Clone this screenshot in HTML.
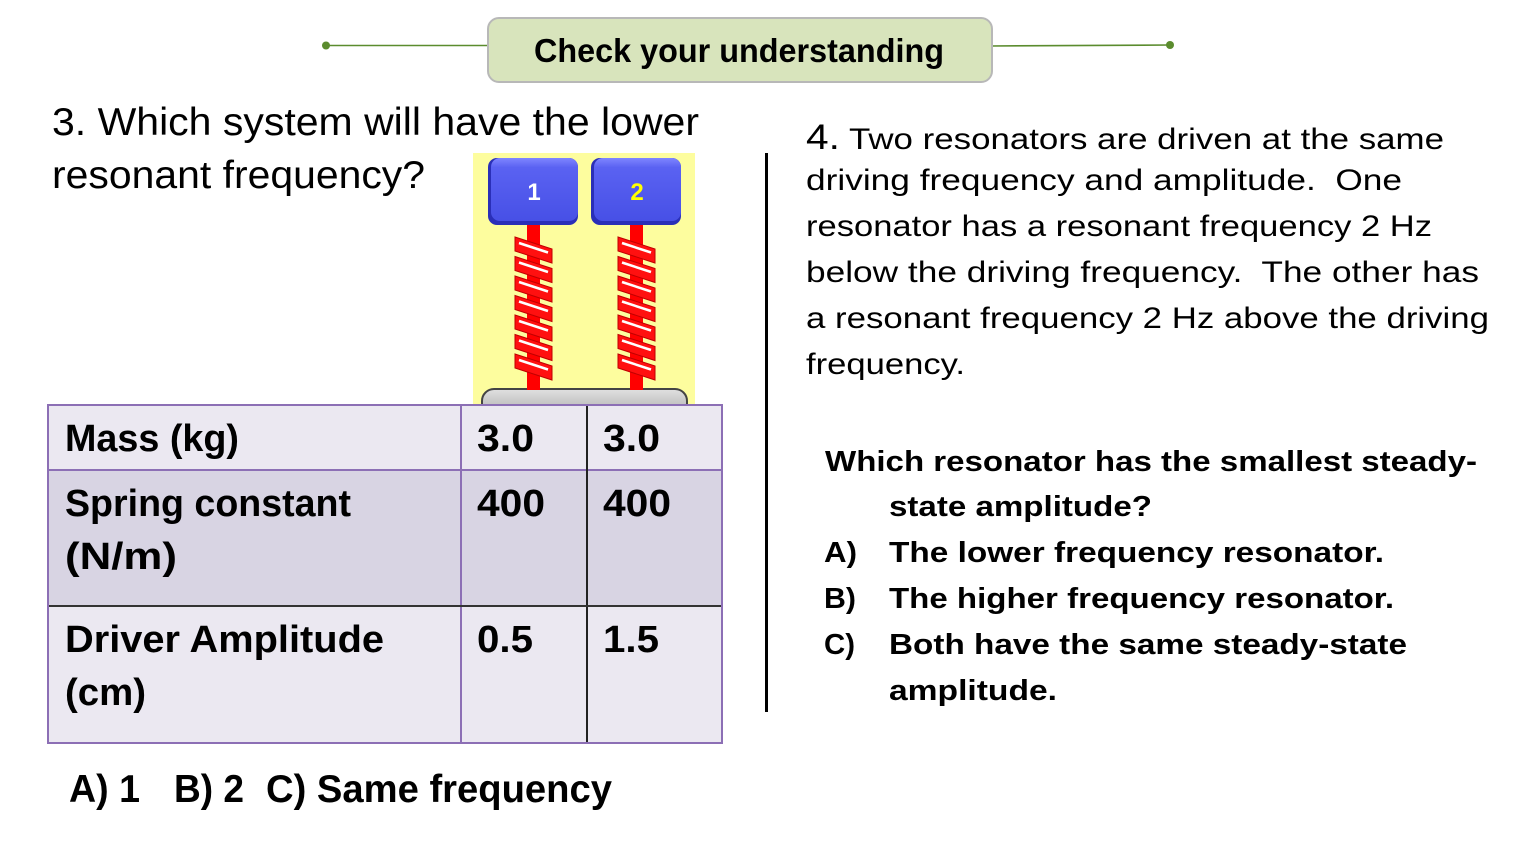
<!DOCTYPE html>
<html><head><meta charset="utf-8">
<style>
html,body{margin:0;padding:0;background:#fff;}
body{width:1533px;height:864px;position:relative;overflow:hidden;font-family:"Liberation Sans",Arial,sans-serif;color:#000;}
.f{position:absolute;line-height:1;white-space:pre;}
.f>span{display:inline-block;transform-origin:0 0;white-space:pre;}
.b{font-weight:bold;}
.abs{position:absolute;}
</style></head><body>

<!-- header connectors -->
<svg class="abs" style="left:0;top:0" width="1533" height="100">
  <line x1="326" y1="45.5" x2="490" y2="45.5" stroke="#5b8c2e" stroke-width="1.6"/>
  <line x1="990" y1="46" x2="1170" y2="45" stroke="#5b8c2e" stroke-width="1.6"/>
  <circle cx="326" cy="45.5" r="4" fill="#5b8c2e"/>
  <circle cx="1170" cy="45" r="4" fill="#5b8c2e"/>
</svg>
<div class="abs" style="left:487px;top:17px;width:502px;height:62px;background:#d8e4bc;border:2px solid #b8b8b8;border-radius:12px;"></div>
<div class="f b" style="left:534px;top:34px;width:410px;font-size:33px"><span>Check your understanding</span></div>

<!-- Left question -->
<div class="f" style="left:52px;top:103px;width:647px;font-size:39px"><span>3. Which system will have the lower</span></div>
<div class="f" style="left:52px;top:156px;width:373px;font-size:39px"><span>resonant frequency?</span></div>

<!-- Spring picture -->
<svg class="abs" style="left:0;top:0" width="760" height="420">
  <defs>
    <linearGradient id="blk" x1="0" y1="0" x2="0" y2="1">
      <stop offset="0" stop-color="#7f86ff"/>
      <stop offset="0.15" stop-color="#5a62f2"/>
      <stop offset="1" stop-color="#4750e6"/>
    </linearGradient>
    <linearGradient id="base" x1="0" y1="0" x2="0" y2="1">
      <stop offset="0" stop-color="#e0e0e0"/>
      <stop offset="1" stop-color="#a8a8a8"/>
    </linearGradient>
  </defs>
  <rect x="473" y="153" width="222" height="252" fill="#fdfd9e"/>
  <!-- base -->
  <rect x="482" y="389" width="205" height="30" rx="12" fill="url(#base)" stroke="#444" stroke-width="2"/>
  <!-- stems -->
  <rect x="527" y="222" width="13" height="168" fill="#ff0000"/>
  <rect x="630" y="222" width="13" height="168" fill="#ff0000"/>
  <!-- coils spring 1 -->
  <g id="coil1">
    <polygon points="515,237 552,249 552,263 515,251" fill="#ff1010" stroke="#c00000" stroke-width="1"/>
    <line x1="519" y1="243" x2="548" y2="252.5" stroke="#fff" stroke-width="2.5"/>
    <polygon points="515,256.5 552,268.5 552,282.5 515,270.5" fill="#ff1010" stroke="#c00000" stroke-width="1"/>
    <line x1="519" y1="262.5" x2="548" y2="272" stroke="#fff" stroke-width="2.5"/>
    <polygon points="515,276 552,288 552,302 515,290" fill="#ff1010" stroke="#c00000" stroke-width="1"/>
    <line x1="519" y1="282" x2="548" y2="291.5" stroke="#fff" stroke-width="2.5"/>
    <polygon points="515,295.5 552,307.5 552,321.5 515,309.5" fill="#ff1010" stroke="#c00000" stroke-width="1"/>
    <line x1="519" y1="301.5" x2="548" y2="311" stroke="#fff" stroke-width="2.5"/>
    <polygon points="515,315 552,327 552,341 515,329" fill="#ff1010" stroke="#c00000" stroke-width="1"/>
    <line x1="519" y1="321" x2="548" y2="330.5" stroke="#fff" stroke-width="2.5"/>
    <polygon points="515,334.5 552,346.5 552,360.5 515,348.5" fill="#ff1010" stroke="#c00000" stroke-width="1"/>
    <line x1="519" y1="340.5" x2="548" y2="350" stroke="#fff" stroke-width="2.5"/>
    <polygon points="515,354 552,366 552,380 515,368" fill="#ff1010" stroke="#c00000" stroke-width="1"/>
    <line x1="519" y1="360" x2="548" y2="369.5" stroke="#fff" stroke-width="2.5"/>
  </g>
  <use href="#coil1" x="103" y="0"/>
  <!-- blocks -->
  <rect x="488" y="158" width="90" height="67" rx="9" fill="#2a2fb8"/>
  <rect x="491" y="158" width="87" height="63" rx="9" fill="url(#blk)"/>
  <rect x="591" y="158" width="90" height="67" rx="9" fill="#2a2fb8"/>
  <rect x="594" y="158" width="87" height="63" rx="9" fill="url(#blk)"/>
  <text x="534" y="200" font-family="Liberation Sans, Arial, sans-serif" font-weight="bold" font-size="24" fill="#ffffff" text-anchor="middle">1</text>
  <text x="637" y="200" font-family="Liberation Sans, Arial, sans-serif" font-weight="bold" font-size="24" fill="#ffff00" text-anchor="middle">2</text>
</svg>

<!-- Table -->
<div class="abs" style="left:48px;top:405px;width:674px;height:65px;background:#ebe8f1"></div>
<div class="abs" style="left:48px;top:470px;width:674px;height:136px;background:#d8d4e3"></div>
<div class="abs" style="left:48px;top:606px;width:674px;height:137px;background:#ebe8f1"></div>
<svg class="abs" style="left:0;top:0" width="760" height="760">
  <line x1="461" y1="405" x2="461" y2="743" stroke="#8c6fb5" stroke-width="2"/>
  <line x1="48" y1="470" x2="722" y2="470" stroke="#8c6fb5" stroke-width="2"/>
  <line x1="587" y1="405" x2="587" y2="743" stroke="#222" stroke-width="2"/>
  <line x1="48" y1="606" x2="722" y2="606" stroke="#333" stroke-width="2"/>
  <rect x="48" y="405" width="674" height="338" fill="none" stroke="#8c6fb5" stroke-width="2"/>
</svg>
<div class="f b" style="left:65px;top:420px;width:174px;font-size:38px"><span>Mass (kg)</span></div>
<div class="f b" style="left:477px;top:420px;width:57px;font-size:38px"><span>3.0</span></div>
<div class="f b" style="left:603px;top:420px;width:57px;font-size:38px"><span>3.0</span></div>
<div class="f b" style="left:65px;top:485px;width:286px;font-size:38px"><span>Spring constant</span></div>
<div class="f b" style="left:65px;top:538px;width:112px;font-size:38px"><span>(N/m)</span></div>
<div class="f b" style="left:477px;top:485px;width:68px;font-size:38px"><span>400</span></div>
<div class="f b" style="left:603px;top:485px;width:68px;font-size:38px"><span>400</span></div>
<div class="f b" style="left:65px;top:621px;width:319px;font-size:38px"><span>Driver Amplitude</span></div>
<div class="f b" style="left:65px;top:674px;width:81px;font-size:38px"><span>(cm)</span></div>
<div class="f b" style="left:477px;top:621px;width:56px;font-size:38px"><span>0.5</span></div>
<div class="f b" style="left:603px;top:621px;width:56px;font-size:38px"><span>1.5</span></div>

<!-- bottom answers -->
<div class="f b" style="left:69px;top:770px;width:71px;font-size:39px"><span>A) 1</span></div>
<div class="f b" style="left:174px;top:770px;width:70px;font-size:39px"><span>B) 2</span></div>
<div class="f b" style="left:266px;top:770px;width:346px;font-size:39px"><span>C) Same frequency</span></div>

<!-- divider -->
<div class="abs" style="left:765px;top:153px;width:3px;height:559px;background:#000"></div>

<!-- Right question -->
<div class="f" style="left:806px;top:120px;width:638px;font-size:30px"><span><span style="font-size:35px">4.</span> Two resonators are driven at the same</span></div>
<div class="f" style="left:806px;top:166px;width:596px;font-size:30px"><span>driving frequency and amplitude.  One</span></div>
<div class="f" style="left:806px;top:212px;width:626px;font-size:30px"><span>resonator has a resonant frequency 2 Hz</span></div>
<div class="f" style="left:806px;top:258px;width:673px;font-size:30px"><span>below the driving frequency.  The other has</span></div>
<div class="f" style="left:806px;top:304px;width:683px;font-size:30px"><span>a resonant frequency 2 Hz above the driving</span></div>
<div class="f" style="left:806px;top:350px;width:159px;font-size:30px"><span>frequency.</span></div>

<div class="f b" style="left:825px;top:448px;width:652px;font-size:29px"><span>Which resonator has the smallest steady-</span></div>
<div class="f b" style="left:889px;top:493px;width:263px;font-size:29px"><span>state amplitude?</span></div>
<div class="f b" style="left:824px;top:539px;width:33px;font-size:29px"><span>A)</span></div>
<div class="f b" style="left:889px;top:539px;width:495px;font-size:29px"><span>The lower frequency resonator.</span></div>
<div class="f b" style="left:824px;top:585px;width:32px;font-size:29px"><span>B)</span></div>
<div class="f b" style="left:889px;top:585px;width:505px;font-size:29px"><span>The higher frequency resonator.</span></div>
<div class="f b" style="left:824px;top:631px;width:31px;font-size:29px"><span>C)</span></div>
<div class="f b" style="left:889px;top:631px;width:518px;font-size:29px"><span>Both have the same steady-state</span></div>
<div class="f b" style="left:889px;top:677px;width:168px;font-size:29px"><span>amplitude.</span></div>

<script>
document.querySelectorAll('.f').forEach(function(e){
  var w=parseFloat(e.style.width);
  var s=e.firstElementChild;
  var a=s.getBoundingClientRect().width;
  if(a>0&&w>0){s.style.transform='scaleX('+(w/a)+')';}
});
</script>
</body></html>
